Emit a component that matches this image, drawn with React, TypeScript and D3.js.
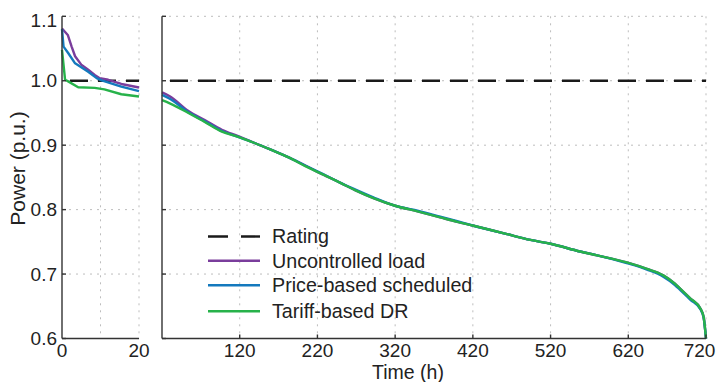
import React from 'react';
import * as d3 from 'd3';

// Left (zoomed) panel: first 20 hours
const leftTimeUnc = [0, 1.5, 2.5, 3.4, 5, 6.8, 8.5, 9.8, 12, 15.4, 20];
const leftUnc = [1.081, 1.071, 1.053, 1.038, 1.025, 1.017, 1.009, 1.004, 1.0015, 0.995, 0.9895];
const leftTimePrice = [0, 0.4, 1.6, 3.4, 5, 6.8, 9, 10.3, 15.4, 20];
const leftPrice = [1.08, 1.053, 1.043, 1.027, 1.021, 1.014, 1.004, 1.0005, 0.991, 0.984];
const leftTimeTariff = [0, 0.8, 1.6, 4.2, 8.5, 11, 15.4, 20];
const leftTariff = [1.048, 1.0015, 0.999, 0.99, 0.989, 0.9866, 0.979, 0.9755];

// Right panel: hours 20 - 720 (load duration curve)
const rightTime = [20, 30, 54, 75, 97, 118, 140, 160, 183, 205, 226, 249, 269, 292, 320, 350, 378, 400, 421, 464, 494, 520, 558, 580, 618, 644, 665, 680, 687, 700, 713, 717, 720];
const rightUnc = [0.982, 0.976, 0.953, 0.939, 0.924, 0.914, 0.903, 0.893, 0.881, 0.868, 0.855, 0.842, 0.830, 0.818, 0.806, 0.797, 0.788, 0.781, 0.775, 0.762, 0.753, 0.747, 0.735, 0.729, 0.718, 0.708, 0.698, 0.685, 0.677, 0.662, 0.646, 0.633, 0.600];
const rightPrice = [0.978, 0.972, 0.951, 0.937, 0.922, 0.913, 0.903, 0.893, 0.881, 0.868, 0.856, 0.842, 0.831, 0.819, 0.806, 0.798, 0.789, 0.782, 0.775, 0.762, 0.753, 0.747, 0.735, 0.729, 0.717, 0.707, 0.696, 0.683, 0.675, 0.660, 0.645, 0.632, 0.600];
const rightTariff = [0.970, 0.965, 0.950, 0.936, 0.921, 0.913, 0.903, 0.893, 0.881, 0.867, 0.855, 0.842, 0.830, 0.818, 0.806, 0.797, 0.788, 0.781, 0.775, 0.762, 0.753, 0.747, 0.735, 0.729, 0.718, 0.708, 0.698, 0.685, 0.677, 0.662, 0.646, 0.633, 0.600];

const rating = 1.0;
const yTicks = [0.6, 0.7, 0.8, 0.9, 1.0, 1.1];
const leftXTicks = [0, 20];
const leftXGrid = [10, 20];
const rightXTicks = [120, 220, 320, 420, 520, 620, 720];

const legendLabels = ['Rating', 'Uncontrolled load', 'Price-based scheduled', 'Tariff-based DR'];
const colors = { rating: '#1a1a1a', unc: '#7a3d9c', price: '#1479bd', tariff: '#27b24a' };

const FONT = '"Liberation Sans", Arial, sans-serif';

export default function App() {
  const width = 717;
  const height = 382;
  const top = 16.3;
  const bottom = 338.5;

  const y = d3.scaleLinear().domain([0.6, 1.1]).range([bottom, top]);
  const xL = d3.scaleLinear().domain([0, 20]).range([62, 139]);
  const xR = d3.scaleLinear().domain([20, 720]).range([162, 706]);

  const lineL = (ts: number[], vs: number[]) =>
    d3.line<number>().x((_, i) => xL(ts[i])).y(d => y(d))(vs) || '';
  const lineR = (vs: number[]) =>
    d3.line<number>().x((_, i) => xR(rightTime[i])).y(d => y(d)).curve(d3.curveMonotoneX)(vs) || '';

  const gridStyle = { stroke: '#bdbdbd', strokeWidth: 1, strokeDasharray: '2,5' };
  const axisColor = '#333';
  const lw = 2.4;

  const series = [
    { color: colors.unc, l: lineL(leftTimeUnc, leftUnc), r: lineR(rightUnc) },
    { color: colors.price, l: lineL(leftTimePrice, leftPrice), r: lineR(rightPrice) },
    { color: colors.tariff, l: lineL(leftTimeTariff, leftTariff), r: lineR(rightTariff) },
  ];

  const legendY = [236.5, 260.7, 285.3, 311.3];
  const legendColors = [colors.rating, colors.unc, colors.price, colors.tariff];

  return (
    <svg width={width} height={height} style={{ position: 'absolute', left: 0, top: 0, background: '#fff' }}
      fontFamily={FONT}>
      {/* grid: left panel */}
      {yTicks.filter(t => t > 0.6).map(t => (
        <line key={'gl' + t} x1={xL(0)} x2={xL(20)} y1={y(t)} y2={y(t)} style={gridStyle} />
      ))}
      {leftXGrid.map(t => (
        <line key={'gvl' + t} x1={xL(t)} x2={xL(t)} y1={top} y2={bottom} style={gridStyle} />
      ))}
      {/* grid: right panel */}
      {yTicks.filter(t => t > 0.6).map(t => (
        <line key={'gr' + t} x1={xR(20)} x2={xR(720)} y1={y(t)} y2={y(t)} style={gridStyle} />
      ))}
      {rightXTicks.map(t => (
        <line key={'gvr' + t} x1={xR(t)} x2={xR(t)} y1={top} y2={bottom} style={gridStyle} />
      ))}

      {/* rating */}
      <line x1={xL(0)} x2={xL(20)} y1={y(rating)} y2={y(rating)} stroke={colors.rating} strokeWidth={lw} strokeDasharray="18,10" strokeDashoffset={-8} />
      <line x1={xR(20)} x2={xR(720)} y1={y(rating)} y2={y(rating)} stroke={colors.rating} strokeWidth={lw} strokeDasharray="18,10" strokeDashoffset={-8} />

      {/* series */}
      {series.map((s, i) => (
        <g key={i} fill="none" stroke={s.color} strokeWidth={lw} strokeLinejoin="round">
          <path d={s.l} />
          <path d={s.r} />
        </g>
      ))}

      {/* axes */}
      <g stroke={axisColor} strokeWidth={1.4}>
        <line x1={xL(0)} x2={xL(0)} y1={top} y2={bottom} />
        <line x1={xL(0)} x2={xL(20)} y1={bottom} y2={bottom} />
        <line x1={xR(20)} x2={xR(20)} y1={top} y2={bottom} />
        <line x1={xR(20)} x2={xR(720)} y1={bottom} y2={bottom} />
        {yTicks.map(t => (
          <g key={'yt' + t}>
            <line x1={xL(0)} x2={xL(0) + 4} y1={y(t)} y2={y(t)} />
            <line x1={xR(20)} x2={xR(20) + 4} y1={y(t)} y2={y(t)} />
          </g>
        ))}
        {rightXTicks.map(t => (
          <line key={'xtr' + t} x1={xR(t)} x2={xR(t)} y1={bottom} y2={bottom - 4} />
        ))}
      </g>

      {/* tick labels */}
      <g fontSize={19} fill="#222">
        {yTicks.map(t => (
          <text key={'yl' + t} x={57} y={y(t) + (t === 1.1 ? 4 : 0)} dy="0.35em" textAnchor="end">{t.toFixed(1)}</text>
        ))}
        {leftXTicks.map(t => (
          <text key={'xll' + t} x={xL(t)} y={357} textAnchor="middle">{t}</text>
        ))}
        {rightXTicks.map(t => (
          <text key={'xlr' + t} x={xR(t) - (t === 720 ? 6.5 : 0)} y={357} textAnchor="middle">{t}</text>
        ))}
      </g>

      {/* axis titles */}
      <text x={408} y={379} fontSize={19.5} fill="#222" textAnchor="middle">Time (h)</text>
      <text transform="translate(25,168.5) rotate(-90)" fontSize={21} fill="#222" textAnchor="middle">Power (p.u.)</text>

      {/* legend */}
      {legendLabels.map((lab, i) => (
        <g key={lab}>
          <line x1={208} x2={260} y1={legendY[i]} y2={legendY[i]} stroke={legendColors[i]} strokeWidth={lw}
            strokeDasharray={i === 0 ? '20,13' : undefined} />
          <text x={272} y={legendY[i]} dy="0.35em" fontSize={19.7} fill="#222">{lab}</text>
        </g>
      ))}
    </svg>
  );
}
